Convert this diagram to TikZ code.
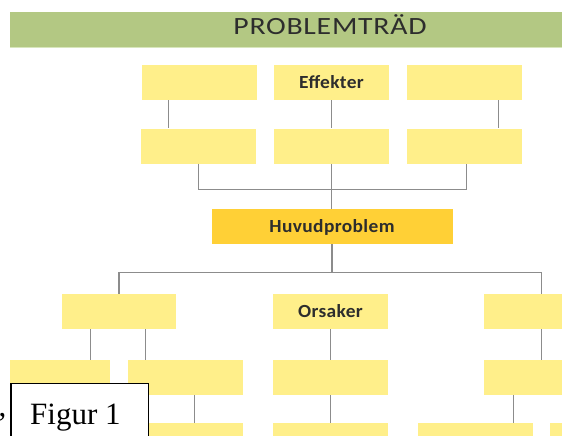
\documentclass[tikz,border=0pt]{standalone}
\usepackage{fontspec}
\usetikzlibrary{calc}
\newfontfamily\titlefont[FakeStretch=1.2,LetterSpace=3]{Carlito}
\newfontfamily\boxfont[FakeStretch=1.05,LetterSpace=2]{Carlito Bold}
\newfontfamily\figfont{Liberation Serif}
\definecolor{bannergreen}{HTML}{B3C883}
\definecolor{bannerline}{HTML}{D8E6BC}
\definecolor{boxyellow}{HTML}{FFEF8A}
\definecolor{mainyellow}{HTML}{FFD036}
\definecolor{linegray}{HTML}{8C8C8C}
\definecolor{textdark}{HTML}{2D2D2D}
\tikzset{
  box/.style={fill=boxyellow, minimum width=115pt, minimum height=35pt, inner sep=0pt,
    text height=11.9pt, text depth=0pt, text=textdark,
    font=\boxfont\fontsize{18.5}{20}\selectfont},
  mainbox/.style={box, fill=mainyellow, minimum width=241pt},
  conn/.style={draw=linegray, line width=1.3pt},
  figframe/.style={draw=black, fill=white, line width=1.4pt}
}
\begin{document}
\begin{tikzpicture}[x=1pt,y=-1pt]
\useasboundingbox (0,0) rectangle (562,436);
% banner
\fill[bannergreen] (10,12) rectangle (570,47);
\fill[bannerline] (10,47) rectangle (570,48.5);
\node[anchor=base, inner sep=0pt, text=textdark,
  font=\titlefont\fontsize{24.8}{28}\selectfont] (title) at (330,35) {PROBLEMTRÄD};
% row 1
\node[box] (a1) at (199.5,82.5) {};
\node[box] (a2) at (331.5,82.5) {Effekter};
\node[box] (a3) at (464.5,82.5) {};
% row 2
\node[box] (b1) at (198.5,146) {};
\node[box] (b2) at (331.5,146) {};
\node[box] (b3) at (464.5,146) {};
% main problem
\node[mainbox] (h) at (332,226.5) {Huvudproblem};
% row 3
\node[box, minimum width=114pt] (c1) at (119,311.5) {};
\node[box] (c2) at (330.5,311.5) {Orsaker};
\node[box] (c3) at (541.5,311.5) {};
% row 4
\node[box, minimum width=100pt] (d1) at (60,377.5) {};
\node[box] (d2) at (185.5,377.5) {};
\node[box] (d3) at (330.5,377.5) {};
\node[box] (d4) at (541.5,377.5) {};
% row 5
\node[box] (e1) at (185.5,440.5) {};
\node[box] (e2) at (330.5,440.5) {};
\node[box] (e3) at (475.5,440.5) {};
\node[box] (e4) at (607.5,440.5) {};
% connectors effects
\draw[conn] ($(a1.south west)+(27,0)$) coordinate (t1) -- (t1 |- b1.north);
\draw[conn] (a2.south) -- (b2.north);
\draw[conn] ($(a3.south west)+(91.5,0)$) coordinate (t3) -- (t3 |- b3.north);
\draw[conn] ($(b1.south west)+(58,0)$) -- ++(0,26) -| ($(b3.south west)+(60,0)$);
\draw[conn] (b2.south) -- (b2.south |- h.north);
% connectors causes
\draw[conn] (h.south) -- ++(0,28.5) coordinate (hj);
\draw[conn] (c1.north) |- (hj) -| (c3.north);
\draw[conn] ($(c1.south west)+(29,0)$) coordinate (u1) -- (u1 |- d1.north);
\draw[conn] ($(c1.south west)+(84,0)$) coordinate (u2) -- (u2 |- d2.north);
\draw[conn] (c2.south) -- (d3.north);
\draw[conn] (c3.south) -- (d4.north);
\draw[conn] ($(d2.south west)+(67,0)$) coordinate (v1) -- (v1 |- e1.north);
\draw[conn] (d3.south) -- (e2.north);
\draw[conn] ($(d4.south west)+(30,0)$) coordinate (v3) -- (v3 |- e3.north);
% figure label
\draw[figframe] (11,383.3) rectangle (148.3,480);
\node[anchor=base west, inner sep=0pt, font=\figfont\fontsize{31}{34}\selectfont] (figtxt) at (30,424.3) {Figur 1};
\node[anchor=base west, inner sep=0pt, font=\figfont\fontsize{31}{34}\selectfont] (comma) at (-1.5,416) {,};
\end{tikzpicture}
\end{document}
